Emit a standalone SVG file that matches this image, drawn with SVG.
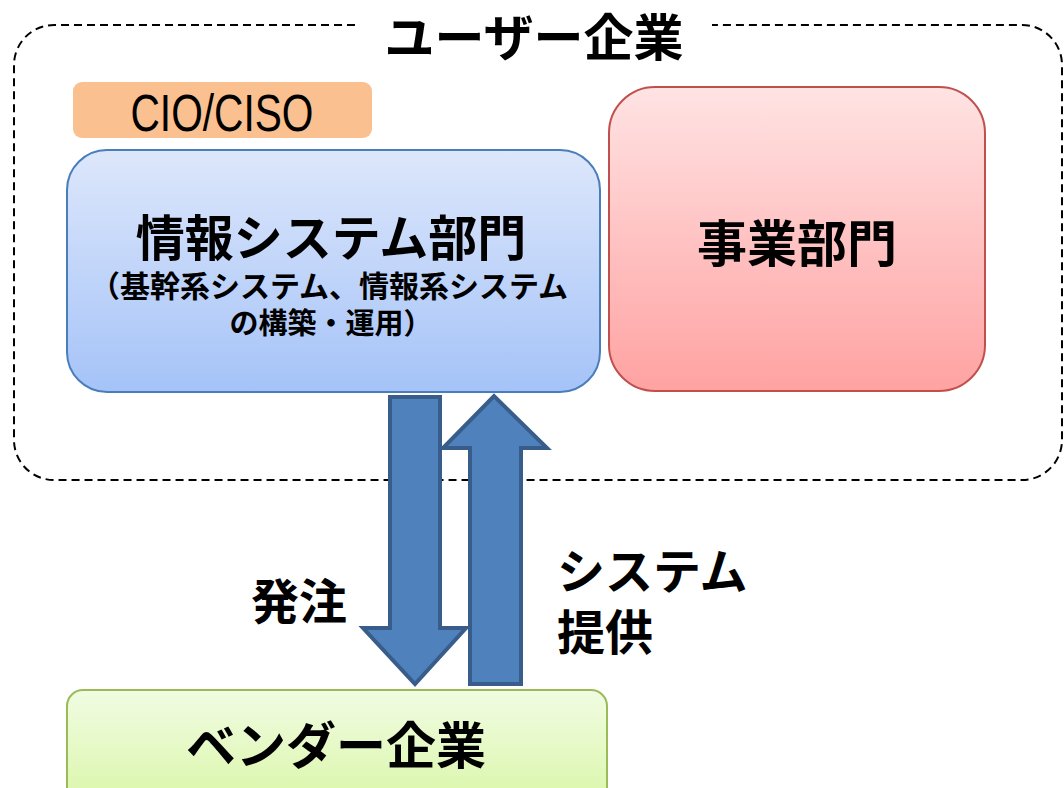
<svg xmlns="http://www.w3.org/2000/svg" width="1064" height="788" viewBox="0 0 1064 788">
<defs>
<linearGradient id="gBlue" x1="0" y1="0" x2="0" y2="1"><stop offset="0" stop-color="#DDE7FB"/><stop offset="1" stop-color="#A5C3F8"/></linearGradient>
<linearGradient id="gRed" x1="0" y1="0" x2="0" y2="1"><stop offset="0" stop-color="#FFE3E3"/><stop offset="1" stop-color="#FFA2A2"/></linearGradient>
<linearGradient id="gGreen" x1="0" y1="0" x2="0" y2="1"><stop offset="0" stop-color="#F1FCE3"/><stop offset="1" stop-color="#D9F6A6"/></linearGradient>
</defs>
<style>
.jp{font-family:"Noto Sans CJK JP","Liberation Sans",sans-serif;font-weight:bold;fill:#000;}
.arrow{fill:#4F81BD;stroke:#385D8A;stroke-width:4;stroke-linejoin:miter;}
</style>
<rect width="1064" height="788" fill="#FFFFFF"/>
<g id="user-company">
<path d="M355,25 H54 A40,40 0 0 0 14,65 V440 A40,40 0 0 0 54,480 H1022 A40,40 0 0 0 1062,440 V65 A40,40 0 0 0 1022,25 H712" fill="none" stroke="#000" stroke-width="2" stroke-dasharray="8,5"/>
<text class="jp" x="534" y="56" font-size="50" text-anchor="middle">ユーザー企業</text>
</g>
<g id="cio">
<rect x="73" y="82" width="299" height="56" rx="9" fill="#FAC090"/>
<text x="222" y="131" font-family="Liberation Sans, sans-serif" font-size="52" text-anchor="middle" textLength="183" lengthAdjust="spacingAndGlyphs" fill="#000">CIO/CISO</text>
</g>
<g id="is-dept">
<rect x="67" y="150" width="533" height="242" rx="40" fill="url(#gBlue)" stroke="#4A7EBB" stroke-width="2"/>
<text class="jp" text-anchor="middle"><tspan x="331" y="256" font-size="49">情報システム部門</tspan><tspan x="329" y="297" font-size="30">（基幹系システム、情報系システム</tspan><tspan x="331" y="334" font-size="29">の構築・運用）</tspan></text>
</g>
<g id="biz-dept">
<rect x="609" y="87" width="376" height="304" rx="46" fill="url(#gRed)" stroke="#C0504D" stroke-width="2"/>
<text class="jp" x="797" y="262" font-size="50" text-anchor="middle">事業部門</text>
</g>
<g id="vendor">
<rect x="67" y="690" width="540" height="120" rx="16" fill="url(#gGreen)" stroke="#9BBB59" stroke-width="2"/>
<text class="jp" x="336" y="764" font-size="50" text-anchor="middle">ベンダー企業</text>
</g>
<g id="connectors">
<path class="arrow" d="M390,397 H440 V628 H466 L415,684 L363,628 H390 Z"/>
<path class="arrow" d="M470,684 H521 V448 H547 L494,396 L443,448 H470 Z"/>
<text class="jp" x="299" y="619" font-size="48" text-anchor="middle">発注</text>
<text class="jp" font-size="48"><tspan x="557" y="589">システム</tspan><tspan x="557" y="650">提供</tspan></text>
</g>
</svg>
